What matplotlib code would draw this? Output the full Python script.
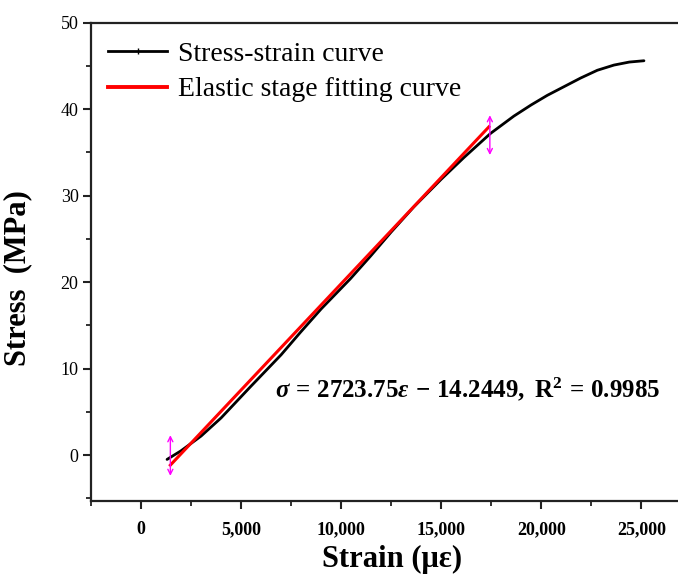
import matplotlib
matplotlib.use("Agg")
import matplotlib.pyplot as plt
from matplotlib.lines import Line2D
from matplotlib.ticker import MultipleLocator, FuncFormatter

plt.rcParams['font.family'] = ['Liberation Serif', 'DejaVu Serif']
plt.rcParams['mathtext.fontset'] = 'custom'
plt.rcParams['mathtext.rm'] = 'Liberation Serif:bold'
plt.rcParams['mathtext.bf'] = 'Liberation Serif:bold'
plt.rcParams['mathtext.it'] = 'Liberation Serif:bold:italic'

# Data
strain = [1300, 2000, 3000, 4000, 5465, 7000, 7965, 9000, 10465, 11465, 12500,
          13630, 15000, 16130, 17465, 18630, 19500, 20300, 21965, 22800, 23630, 24400, 25130]
stress = [-0.5, 0.5, 2.2, 4.3, 7.9, 11.6, 14.2, 16.9, 20.4, 23.0, 25.8,
          28.7, 31.9, 34.4, 37.2, 39.2, 40.5, 41.6, 43.6, 44.5, 45.1, 45.45, 45.6]
fit_strain = [1465, 17380]
fit_stress = [-1.16, 37.95]
marker_x = [1465, 17430]
marker_top = [2.3, 39.3]
marker_bottom = [-2.4, 34.7]

x_ticks = [0, 5000, 10000, 15000, 20000, 25000]
y_ticks = [0, 10, 20, 30, 40, 50]

fig = plt.figure(figsize=(6.78, 5.76), dpi=100)
ax = fig.add_axes([91/678, 1 - 500.5/576, 1 - 91/678 + 0.001, (500.5 - 22.7)/576])

ax.plot(strain, stress, color='black', lw=2.0, solid_capstyle='round',
        solid_joinstyle='round', zorder=3)
ax.plot(fit_strain, fit_stress, color='#ff0000', lw=2.2, zorder=4)
for xm, yt, yb in zip(marker_x, marker_top, marker_bottom):
    ax.annotate('', xy=(xm, yt), xytext=(xm, yb),
                arrowprops=dict(arrowstyle='<->', color='#ff00ff', lw=1.0,
                                mutation_scale=9, shrinkA=0, shrinkB=0), zorder=5)

ax.set_xlim(-2500, (678 - 140.7) / 0.02)
ax.set_ylim(-5.25, 50)

ax.set_xticks(x_ticks)
ax.set_yticks(y_ticks)
ax.xaxis.set_minor_locator(MultipleLocator(2500))
ax.yaxis.set_minor_locator(MultipleLocator(5))
ax.xaxis.set_major_formatter(FuncFormatter(lambda v, p: f"{int(v):,}"))

for s in ['left', 'bottom', 'top']:
    ax.spines[s].set_linewidth(1.6)
    ax.spines[s].set_color('#222222')
ax.spines['right'].set_visible(False)

ax.tick_params(axis='both', which='major', direction='out', length=6, width=1.5, color='#222222')
ax.tick_params(axis='both', which='minor', direction='out', length=3.5, width=1.3, color='#222222')
ax.tick_params(axis='x', which='major', pad=9, labelsize=13)
ax.tick_params(axis='y', which='major', pad=3, labelsize=13)
ax.tick_params(top=False, right=False, which='both')
for lbl in ax.get_xticklabels():
    lbl.set_fontweight('bold')

ax.set_xlabel('Strain (με)', fontsize=22, fontweight='bold')
ax.xaxis.set_label_coords(0.513, -0.092)
ax.set_ylabel('Stress  (MPa)', fontsize=22, fontweight='bold')
ax.yaxis.set_label_coords(-0.1, 0.465)

ax.text(0.968, (455 - 389) / 8.65,
        r'$\sigma\,=\,2723.75\varepsilon\,-\,14.2449,\ \mathrm{R}^2\,=\,0.9985$',
        transform=ax.get_yaxis_transform(), ha='right', va='center', fontsize=18)

handles = [Line2D([0], [0], color='black', lw=2.0, marker='|', markersize=4, markevery=[1]),
           Line2D([0], [0], color='#ff0000', lw=2.8)]
leg = ax.legend(handles, ['Stress-strain curve', 'Elastic stage fitting curve'],
                loc='upper left', bbox_to_anchor=(0.0, 0.995), frameon=False,
                fontsize=20, handlelength=2.15, handletextpad=0.4, labelspacing=0.35,
                borderaxespad=0.3, borderpad=0.3)

fig.savefig('out.png', dpi=100, facecolor='white')
